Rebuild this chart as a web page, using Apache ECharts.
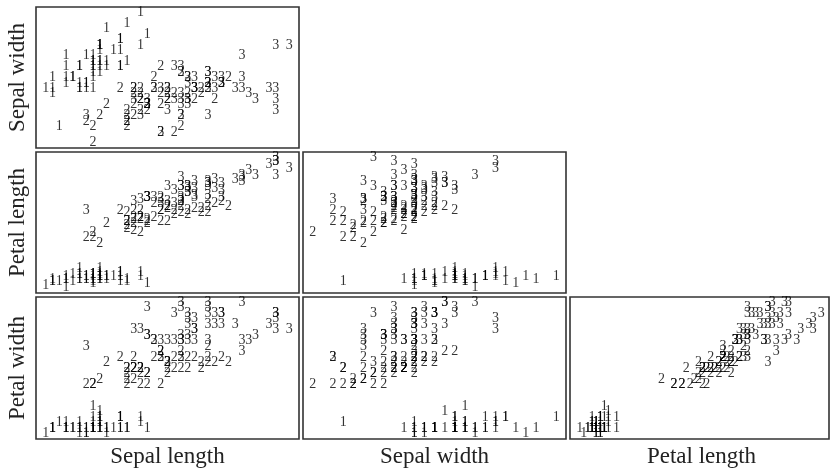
<!DOCTYPE html>
<html>
<head>
<meta charset="utf-8">
<script src="https://cdn.jsdelivr.net/npm/echarts/dist/echarts.min.js"></script>
<style>
html,body{margin:0;padding:0;background:#fff;}
#chart{width:831px;height:471px;}
</style>
</head>
<body>
<div id="chart"></div>
<script>
// Iris data (Fisher), 150 flowers
const sepalLength = [
5.1,4.9,4.7,4.6,5.0,5.4,4.6,5.0,4.4,4.9,5.4,4.8,4.8,4.3,5.8,5.7,5.4,5.1,5.7,5.1,5.4,5.1,4.6,5.1,4.8,5.0,5.0,5.2,5.2,4.7,4.8,5.4,5.2,5.5,4.9,5.0,5.5,4.9,4.4,5.1,5.0,4.5,4.4,5.0,5.1,4.8,5.1,4.6,5.3,5.0,
7.0,6.4,6.9,5.5,6.5,5.7,6.3,4.9,6.6,5.2,5.0,5.9,6.0,6.1,5.6,6.7,5.6,5.8,6.2,5.6,5.9,6.1,6.3,6.1,6.4,6.6,6.8,6.7,6.0,5.7,5.5,5.5,5.8,6.0,5.4,6.0,6.7,6.3,5.6,5.5,5.5,6.1,5.8,5.0,5.6,5.7,5.7,6.2,5.1,5.7,
6.3,5.8,7.1,6.3,6.5,7.6,4.9,7.3,6.7,7.2,6.5,6.4,6.8,5.7,5.8,6.4,6.5,7.7,7.7,6.0,6.9,5.6,7.7,6.3,6.7,7.2,6.2,6.1,6.4,7.2,7.4,7.9,6.4,6.3,6.1,7.7,6.3,6.4,6.0,6.9,6.7,6.9,5.8,6.8,6.7,6.7,6.3,6.5,6.2,5.9];
const sepalWidth = [
3.5,3.0,3.2,3.1,3.6,3.9,3.4,3.4,2.9,3.1,3.7,3.4,3.0,3.0,4.0,4.4,3.9,3.5,3.8,3.8,3.4,3.7,3.6,3.3,3.4,3.0,3.4,3.5,3.4,3.2,3.1,3.4,4.1,4.2,3.1,3.2,3.5,3.6,3.0,3.4,3.5,2.3,3.2,3.5,3.8,3.0,3.8,3.2,3.7,3.3,
3.2,3.2,3.1,2.3,2.8,2.8,3.3,2.4,2.9,2.7,2.0,3.0,2.2,2.9,2.9,3.1,3.0,2.7,2.2,2.5,3.2,2.8,2.5,2.8,2.9,3.0,2.8,3.0,2.9,2.6,2.4,2.4,2.7,2.7,3.0,3.4,3.1,2.3,3.0,2.5,2.6,3.0,2.6,2.3,2.7,3.0,2.9,2.9,2.5,2.8,
3.3,2.7,3.0,2.9,3.0,3.0,2.5,2.9,2.5,3.6,3.2,2.7,3.0,2.5,2.8,3.2,3.0,3.8,2.6,2.2,3.2,2.8,2.8,2.7,3.3,3.2,2.8,3.0,2.8,3.0,2.8,3.8,2.8,2.8,2.6,3.0,3.4,3.1,3.0,3.1,3.1,3.1,2.7,3.2,3.3,3.0,2.5,3.0,3.4,3.0];
const petalLength = [
1.4,1.4,1.3,1.5,1.4,1.7,1.4,1.5,1.4,1.5,1.5,1.6,1.4,1.1,1.2,1.5,1.3,1.4,1.7,1.5,1.7,1.5,1.0,1.7,1.9,1.6,1.6,1.5,1.4,1.6,1.6,1.5,1.5,1.4,1.5,1.2,1.3,1.4,1.3,1.5,1.3,1.3,1.3,1.6,1.9,1.4,1.6,1.4,1.5,1.4,
4.7,4.5,4.9,4.0,4.6,4.5,4.7,3.3,4.6,3.9,3.5,4.2,4.0,4.7,3.6,4.4,4.5,4.1,4.5,3.9,4.8,4.0,4.9,4.7,4.3,4.4,4.8,5.0,4.5,3.5,3.8,3.7,3.9,5.1,4.5,4.5,4.7,4.4,4.1,4.0,4.4,4.6,4.0,3.3,4.2,4.2,4.2,4.3,3.0,4.1,
6.0,5.1,5.9,5.6,5.8,6.6,4.5,6.3,5.8,6.1,5.1,5.3,5.5,5.0,5.1,5.3,5.5,6.7,6.9,5.0,5.7,4.9,6.7,4.9,5.7,6.0,4.8,4.9,5.6,5.8,6.1,6.4,5.6,5.1,5.6,6.1,5.6,5.5,4.8,5.4,5.6,5.1,5.1,5.9,5.7,5.2,5.0,5.2,5.4,5.1];
const petalWidth = [
0.2,0.2,0.2,0.2,0.2,0.4,0.3,0.2,0.2,0.1,0.2,0.2,0.1,0.1,0.2,0.4,0.4,0.3,0.3,0.3,0.2,0.4,0.2,0.5,0.2,0.2,0.4,0.2,0.2,0.2,0.2,0.4,0.1,0.2,0.2,0.2,0.2,0.1,0.2,0.2,0.3,0.3,0.2,0.6,0.4,0.3,0.2,0.2,0.2,0.2,
1.4,1.5,1.5,1.3,1.5,1.3,1.6,1.0,1.3,1.4,1.0,1.5,1.0,1.4,1.3,1.4,1.5,1.0,1.5,1.1,1.8,1.3,1.5,1.2,1.3,1.4,1.4,1.7,1.5,1.0,1.1,1.0,1.2,1.6,1.5,1.6,1.5,1.3,1.3,1.3,1.2,1.4,1.2,1.0,1.3,1.2,1.3,1.3,1.1,1.3,
2.5,1.9,2.1,1.8,2.2,2.1,1.7,1.8,1.8,2.5,2.0,1.9,2.1,2.0,2.4,2.3,1.8,2.2,2.3,1.5,2.3,2.0,2.0,1.8,2.1,1.8,1.8,1.8,2.1,1.6,1.9,2.0,2.2,1.5,1.4,2.3,2.4,1.8,1.8,2.1,2.4,2.3,1.9,2.3,2.5,2.3,1.9,2.0,2.3,1.8];
const species = [
1,1,1,1,1,1,1,1,1,1,1,1,1,1,1,1,1,1,1,1,1,1,1,1,1,1,1,1,1,1,1,1,1,1,1,1,1,1,1,1,1,1,1,1,1,1,1,1,1,1,
2,2,2,2,2,2,2,2,2,2,2,2,2,2,2,2,2,2,2,2,2,2,2,2,2,2,2,2,2,2,2,2,2,2,2,2,2,2,2,2,2,2,2,2,2,2,2,2,2,2,
3,3,3,3,3,3,3,3,3,3,3,3,3,3,3,3,3,3,3,3,3,3,3,3,3,3,3,3,3,3,3,3,3,3,3,3,3,3,3,3,3,3,3,3,3,3,3,3,3,3];
const varNames = ['Sepal length','Sepal width','Petal length','Petal width'];

const vars = [sepalLength, sepalWidth, petalLength, petalWidth];

// layout
const colLeft = [36, 303, 570];
const colW = 263;
const rowTop = [7, 152, 297];
const rowH = [141, 141, 142];
const serif = '"Liberation Serif","Times New Roman",serif';

function padRange(arr){
  const lo = Math.min(...arr), hi = Math.max(...arr);
  const p = (hi - lo) * 0.04;
  return [lo - p, hi + p];
}

const grids = [], xAxes = [], yAxes = [], series = [], graphics = [];
let k = 0;
for (let r = 0; r < 3; r++) {
  const yVar = r + 1;
  for (let c = 0; c <= r; c++) {
    const xVar = c;
    const xr = padRange(vars[xVar]);
    const yr = padRange(vars[yVar]);
    grids.push({left: colLeft[c], top: rowTop[r], width: colW, height: rowH[r], show: false, containLabel: false});
    xAxes.push({type: 'value', gridIndex: k, min: xr[0], max: xr[1], show: false});
    yAxes.push({type: 'value', gridIndex: k, min: yr[0], max: yr[1], show: false});
    const data = vars[xVar].map((v, i) => [v, vars[yVar][i], species[i]]);
    series.push({
      type: 'scatter', xAxisIndex: k, yAxisIndex: k, data: data,
      symbolSize: 1, itemStyle: {color: 'rgba(0,0,0,0)'},
      silent: true, clip: false,
      label: {show: true, position: 'inside', formatter: p => String(p.value[2]),
        fontFamily: serif, fontSize: 14, color: '#000'},
      emphasis: {disabled: true}
    });
    graphics.push({type: 'rect', silent: true,
      shape: {x: colLeft[c], y: rowTop[r], width: (c === 2 ? 259 : colW), height: rowH[r]},
      style: {fill: 'none', stroke: '#333', lineWidth: 1.6}});
    k++;
  }
}
// axis titles
for (let c = 0; c < 3; c++) {
  graphics.push({type: 'text', silent: true, x: colLeft[c] + colW / 2, y: 457,
    style: {text: varNames[c], font: '23px ' + serif, fill: '#222', align: 'center', verticalAlign: 'middle'}});
}
for (let r = 0; r < 3; r++) {
  graphics.push({type: 'text', silent: true, x: 18, y: rowTop[r] + rowH[r] / 2, rotation: Math.PI / 2,
    style: {text: varNames[r + 1], font: '23px ' + serif, fill: '#222', align: 'center', verticalAlign: 'middle'}});
}

const chart = echarts.init(document.getElementById('chart'), null, {renderer: 'canvas'});
chart.setOption({
  animation: false,
  backgroundColor: '#fff',
  grid: grids, xAxis: xAxes, yAxis: yAxes, series: series,
  graphic: graphics
});
</script>
</body>
</html>
